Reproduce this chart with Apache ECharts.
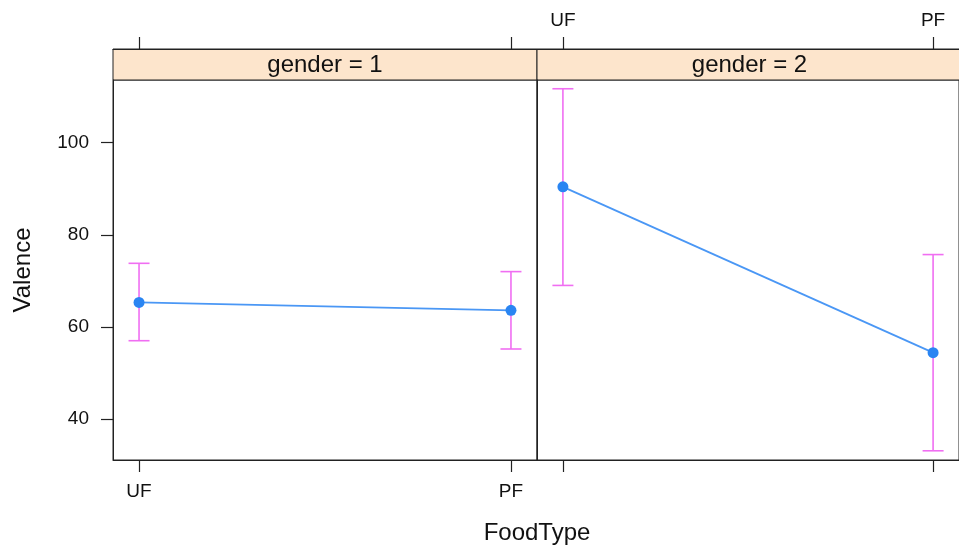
<!DOCTYPE html>
<html>
<head>
<meta charset="utf-8">
<script src="https://cdn.jsdelivr.net/npm/echarts@6/dist/echarts.min.js"></script>
<style>
  html, body { margin: 0; padding: 0; background: #fff; }
  #chart { width: 959px; height: 550px; }
</style>
</head>
<body>
<div id="chart"></div>
<script>
// Mean valence by food type, paneled by gender, with interval bars
const foodTypes = ['UF', 'PF'];
const genderLabels = ['gender = 1', 'gender = 2'];

const meanG1  = [65.3, 63.6];
const lowerG1 = [57.0, 55.2];
const upperG1 = [73.8, 72.0];

const meanG2  = [90.4, 54.4];
const lowerG2 = [69.0, 33.1];
const upperG2 = [111.7, 75.7];

const yTicks = [40, 60, 80, 100];
const xTicks = [1, 2];

const FONT = "'Liberation Sans', Arial, Helvetica, sans-serif";
const LINE_COLOR = '#4a97f5';
const POINT_COLOR = '#2a85f2';
const BAR_COLOR = '#f06ef2';
const STRIP_FILL = '#fde5cc';

const panels = [
  { left: 113, top: 80, width: 424, height: 380 },
  { left: 537, top: 80, width: 425, height: 380 }
];
const STRIP_H = 31;

const X_MIN = 0.93, X_MAX = 2.07;
const Y_MIN = 31.1, Y_MAX = 113.6;

function pairs(xs, ys) { return xs.map((x, i) => [x, ys[i]]); }
function barRows(lo, hi) { return xTicks.map((x, i) => [x, lo[i], hi[i]]); }

function renderBar(params, api) {
  const x = api.value(0);
  const pLo = api.coord([x, api.value(1)]);
  const pHi = api.coord([x, api.value(2)]);
  const half = 10.5;
  const st = { stroke: BAR_COLOR, lineWidth: 1.6 };
  return {
    type: 'group',
    children: [
      { type: 'line', shape: { x1: pHi[0], y1: pHi[1], x2: pLo[0], y2: pLo[1] }, style: st },
      { type: 'line', shape: { x1: pHi[0] - half, y1: pHi[1], x2: pHi[0] + half, y2: pHi[1] }, style: st },
      { type: 'line', shape: { x1: pLo[0] - half, y1: pLo[1], x2: pLo[0] + half, y2: pLo[1] }, style: st }
    ]
  };
}

const catFormatter = v => foodTypes[Math.round(v) - 1] || '';

function xAxisDef(gridIndex, position, showLabels) {
  return {
    type: 'value', gridIndex, position,
    min: X_MIN, max: X_MAX,
    offset: position === 'top' ? STRIP_H : 0,
    splitLine: { show: false },
    axisLine: { show: true, lineStyle: { color: '#222', width: 1 } },
    axisTick: { show: true, length: 12, inside: false, customValues: xTicks, lineStyle: { color: '#222', width: 1.2 } },
    axisLabel: {
      show: showLabels, customValues: xTicks, formatter: catFormatter,
      margin: position === 'top' ? 19 : 22,
      color: '#111', fontSize: 19, fontFamily: FONT
    }
  };
}

function yAxisDef(gridIndex, showLabels) {
  return {
    type: 'value', gridIndex,
    min: Y_MIN, max: Y_MAX,
    splitLine: { show: false },
    axisLine: { show: true, lineStyle: { color: '#222', width: 1 } },
    axisTick: { show: showLabels, length: 12, customValues: yTicks, lineStyle: { color: '#222', width: 1.2 } },
    axisLabel: {
      show: showLabels, customValues: yTicks, margin: 24,
      color: '#111', fontSize: 19, fontFamily: FONT
    }
  };
}

const chart = echarts.init(document.getElementById('chart'), null, { renderer: 'canvas' });

const stripGraphics = panels.map((p, i) => ({
  type: 'group',
  z: 1,
  children: [
    {
      type: 'rect',
      shape: { x: p.left, y: p.top - STRIP_H, width: p.width, height: STRIP_H },
      style: { fill: STRIP_FILL, stroke: '#222', lineWidth: 1 }
    },
    {
      type: 'text',
      x: p.left + p.width / 2, y: p.top - STRIP_H / 2 + 1,
      style: {
        text: genderLabels[i], fill: '#111', fontSize: 24, fontFamily: FONT,
        align: 'center', verticalAlign: 'middle'
      }
    }
  ]
}));

chart.setOption({
  animation: false,
  backgroundColor: '#fff',
  grid: panels.map(p => ({
    left: p.left, top: p.top, width: p.width, height: p.height,
    show: true, borderColor: '#222', borderWidth: 1, backgroundColor: 'transparent',
    containLabel: false
  })),
  xAxis: [
    xAxisDef(0, 'bottom', true),
    xAxisDef(0, 'top', false),
    xAxisDef(1, 'bottom', false),
    xAxisDef(1, 'top', true)
  ],
  yAxis: [yAxisDef(0, true), yAxisDef(1, false)],
  graphic: [
    ...stripGraphics,
    {
      type: 'text', x: 23, y: 270, rotation: Math.PI / 2,
      style: { text: 'Valence', fill: '#111', fontSize: 24, fontFamily: FONT, align: 'center', verticalAlign: 'middle' }
    },
    {
      type: 'text', x: 537, y: 533,
      style: { text: 'FoodType', fill: '#111', fontSize: 24, fontFamily: FONT, align: 'center', verticalAlign: 'middle' }
    }
  ],
  series: [
    {
      type: 'custom', xAxisIndex: 0, yAxisIndex: 0, z: 2,
      renderItem: renderBar, encode: { x: 0, y: [1, 2] },
      data: barRows(lowerG1, upperG1)
    },
    {
      type: 'custom', xAxisIndex: 2, yAxisIndex: 1, z: 2,
      renderItem: renderBar, encode: { x: 0, y: [1, 2] },
      data: barRows(lowerG2, upperG2)
    },
    {
      type: 'line', xAxisIndex: 0, yAxisIndex: 0, z: 3,
      data: pairs(xTicks, meanG1),
      symbol: 'circle', symbolSize: 11,
      lineStyle: { color: LINE_COLOR, width: 1.8 },
      itemStyle: { color: POINT_COLOR },
      emphasis: { disabled: true }
    },
    {
      type: 'line', xAxisIndex: 2, yAxisIndex: 1, z: 3,
      data: pairs(xTicks, meanG2),
      symbol: 'circle', symbolSize: 11,
      lineStyle: { color: LINE_COLOR, width: 1.8 },
      itemStyle: { color: POINT_COLOR },
      emphasis: { disabled: true }
    }
  ]
});
</script>
</body>
</html>
